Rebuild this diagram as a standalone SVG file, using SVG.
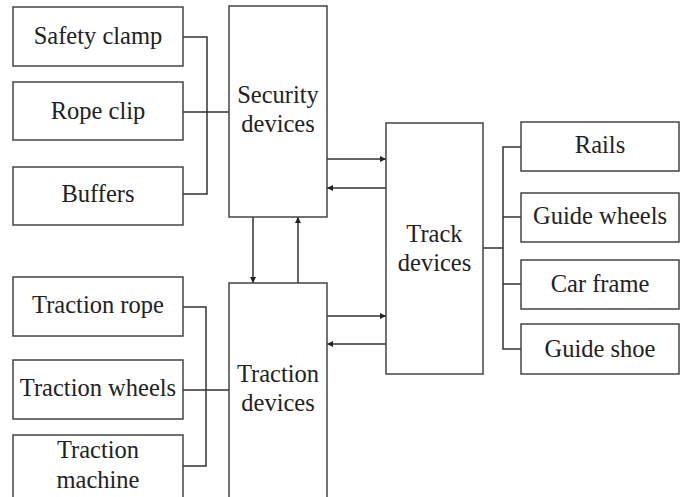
<svg xmlns="http://www.w3.org/2000/svg" width="686" height="497" viewBox="0 0 686 497">
<style>
.box{fill:#fff;stroke:#444;stroke-width:1.5}
.t{font-family:"Liberation Serif","Times New Roman",serif;font-size:24.5px;fill:#222;text-anchor:middle}
.c{fill:none;stroke:#333;stroke-width:1.5}
</style>
<defs>
<marker id="ah" viewBox="0 0 10 10" refX="10" refY="5" markerWidth="6" markerHeight="6" markerUnits="userSpaceOnUse" orient="auto">
<path d="M0,0 L10,5 L0,10 z" fill="#222"/>
</marker>
</defs>
<rect width="686" height="497" fill="#fff"/>
<g id="connectors">
<path class="c" d="M183,37 H207 V194 H183"/>
<path class="c" d="M183,112 H229"/>
<path class="c" d="M183,307 H206 V466 H183"/>
<path class="c" d="M183,390 H229"/>
<path class="c" d="M253,217 V283" marker-end="url(#ah)"/>
<path class="c" d="M298,283 V217" marker-end="url(#ah)"/>
<path class="c" d="M327,159 H386" marker-end="url(#ah)"/>
<path class="c" d="M386,188 H327" marker-end="url(#ah)"/>
<path class="c" d="M327,316 H386" marker-end="url(#ah)"/>
<path class="c" d="M386,344 H327" marker-end="url(#ah)"/>
<path class="c" d="M483,248 H503"/>
<path class="c" d="M521,147 H503 V349 H521"/>
<path class="c" d="M503,217 H521"/>
<path class="c" d="M503,284 H521"/>
</g>
<g id="safety-clamp"><rect class="box" x="13" y="7" width="170" height="59"/><text class="t" x="98" y="44">Safety clamp</text></g>
<g id="rope-clip"><rect class="box" x="13" y="82" width="170" height="58"/><text class="t" x="98" y="119">Rope clip</text></g>
<g id="buffers"><rect class="box" x="13" y="167" width="170" height="58"/><text class="t" x="98" y="202">Buffers</text></g>
<g id="security-devices"><rect class="box" x="229" y="6" width="98" height="211"/><text class="t" x="278" y="103">Security</text><text class="t" x="278" y="132">devices</text></g>
<g id="traction-rope"><rect class="box" x="13" y="277" width="170" height="59"/><text class="t" x="98" y="313">Traction rope</text></g>
<g id="traction-wheels"><rect class="box" x="13" y="360" width="170" height="59"/><text class="t" x="98" y="396">Traction wheels</text></g>
<g id="traction-machine"><rect class="box" x="13" y="435" width="170" height="66"/><text class="t" x="98" y="458">Traction</text><text class="t" x="98" y="488">machine</text></g>
<g id="traction-devices"><rect class="box" x="229" y="283" width="98" height="218"/><text class="t" x="278" y="382">Traction</text><text class="t" x="278" y="411">devices</text></g>
<g id="track-devices"><rect class="box" x="386" y="123" width="97" height="251"/><text class="t" x="434.5" y="242">Track</text><text class="t" x="434.5" y="271">devices</text></g>
<g id="rails"><rect class="box" x="521" y="122" width="158" height="49"/><text class="t" x="600" y="153">Rails</text></g>
<g id="guide-wheels"><rect class="box" x="521" y="193" width="158" height="49"/><text class="t" x="600" y="224">Guide wheels</text></g>
<g id="car-frame"><rect class="box" x="521" y="260" width="158" height="49"/><text class="t" x="600" y="292">Car frame</text></g>
<g id="guide-shoe"><rect class="box" x="521" y="324" width="158" height="50"/><text class="t" x="600" y="357">Guide shoe</text></g>
</svg>
